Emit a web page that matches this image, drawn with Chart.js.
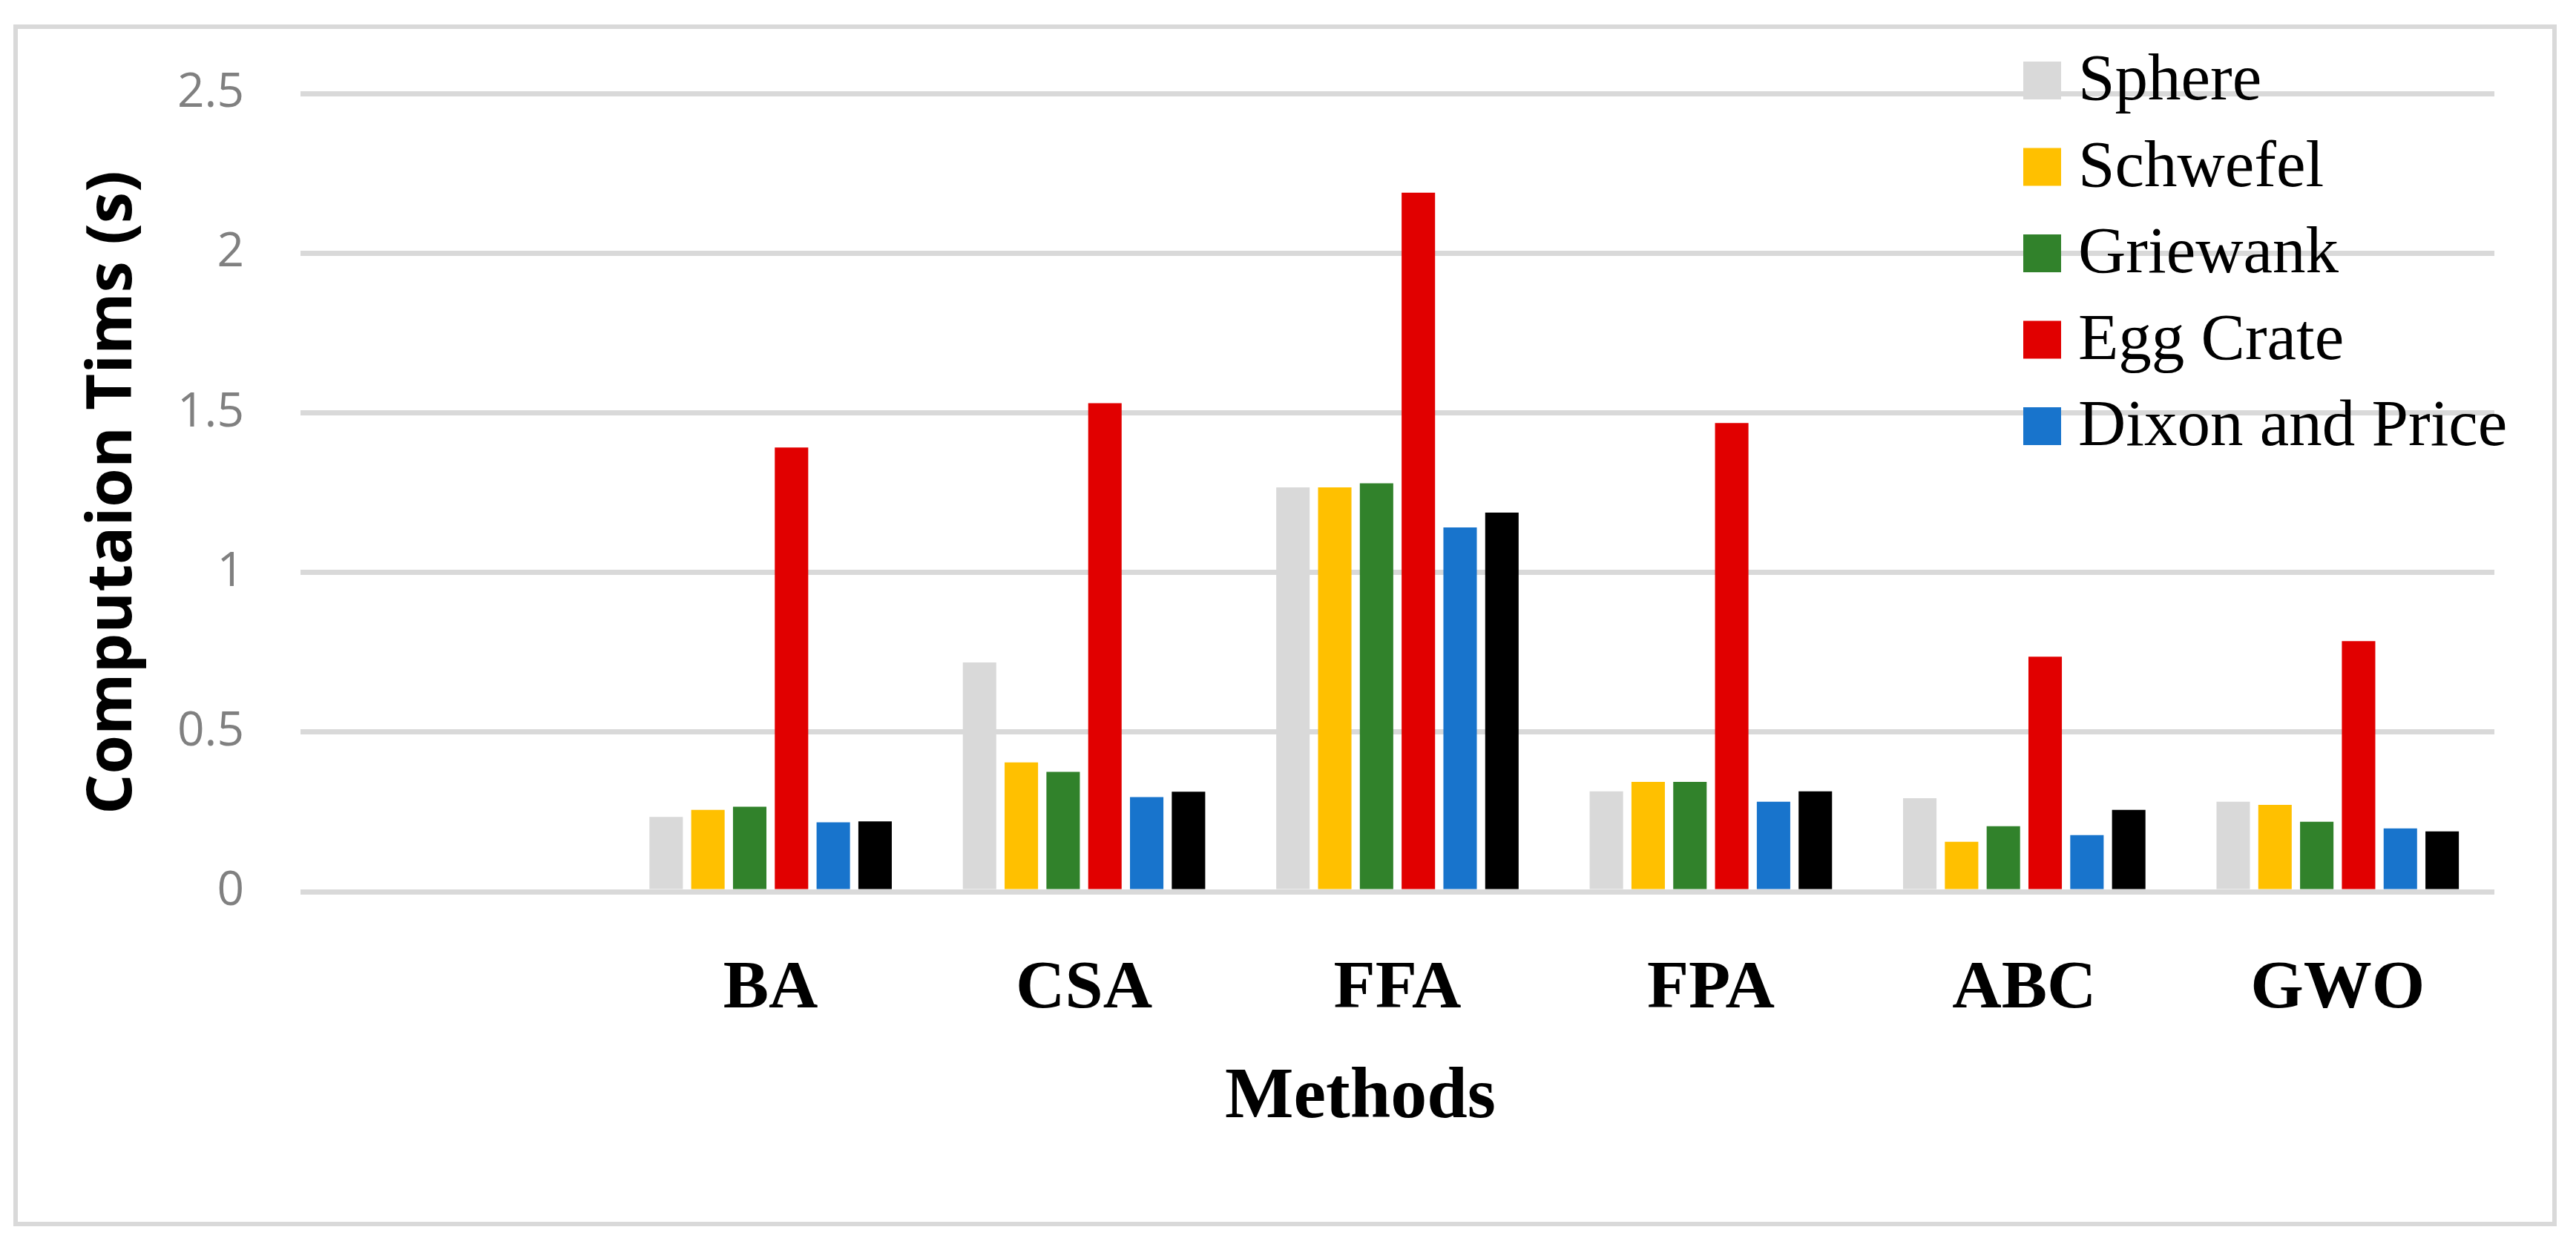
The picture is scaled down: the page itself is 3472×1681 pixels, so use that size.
<!DOCTYPE html>
<html>
<head>
<meta charset="utf-8">
<script src="https://cdn.jsdelivr.net/npm/chart.js@4"></script>
<style>
  html, body { margin: 0; padding: 0; background: #ffffff; }
  #wrap { width: 3472px; height: 1681px; position: relative; }
</style>
</head>
<body>
<div id="wrap"><canvas id="c" width="3472" height="1681"></canvas></div>
<script>
const categories = ['', 'BA', 'CSA', 'FFA', 'FPA', 'ABC', 'GWO'];
const seriesNames = ['Sphere', 'Schwefel', 'Griewank', 'Egg Crate', 'Dixon and Price', ''];
const sphere   = [null, 0.234, 0.718, 1.266, 0.314, 0.293, 0.282];
const schwefel = [null, 0.256, 0.405, 1.266, 0.344, 0.156, 0.272];
const griewank = [null, 0.266, 0.375, 1.279, 0.344, 0.205, 0.219];
const eggCrate = [null, 1.391, 1.530, 2.189, 1.468, 0.736, 0.785];
const dixonPrice = [null, 0.217, 0.296, 1.141, 0.282, 0.177, 0.198];
const unnamed  = [null, 0.220, 0.313, 1.187, 0.314, 0.256, 0.189];
const yTicks = [0, 0.5, 1, 1.5, 2, 2.5];
const yTickLabels = ['0', '0.5', '1', '1.5', '2', '2.5'];
const xTitle = 'Methods';
const yTitle = 'Computaion Tims (s)';

const colors = ['#d9d9d9', '#ffc000', '#31822b', '#e10000', '#1874cc', '#000000'];
const values = [sphere, schwefel, griewank, eggCrate, dixonPrice, unnamed];

const framePlugin = {
  id: 'frame',
  beforeDraw(chart) {
    const ctx = chart.ctx;
    ctx.save();
    ctx.fillStyle = '#ffffff';
    ctx.fillRect(0, 0, chart.width, chart.height);
    ctx.strokeStyle = '#d9d9d9';
    ctx.lineWidth = 6;
    ctx.strokeRect(21, 36, 3422, 1614);
    ctx.restore();
    // the x-axis title sits a little left of the plot centre in the original
    const sx = chart.scales.x;
    if (sx && !sx._titleShifted) {
      const orig = sx.drawTitle.bind(sx);
      sx.drawTitle = function () {
        this.ctx.save();
        this.ctx.translate(-50, 0);
        orig();
        this.ctx.restore();
      };
      sx._titleShifted = true;
    }
  }
};

const legendPlugin = {
  id: 'sideLegend',
  afterDatasetsDraw(chart) {
    const ctx = chart.ctx;
    const area = chart.chartArea;
    const boxX = area.right - 635;
    const y0 = area.top - 43;
    const step = 116.5;
    const box = 51;
    ctx.save();
    ctx.font = '89px "Liberation Serif", serif';
    ctx.textBaseline = 'alphabetic';
    ctx.textAlign = 'left';
    chart.data.datasets.forEach((ds, i) => {
      if (!ds.label) return;
      const y = y0 + i * step;
      ctx.fillStyle = ds.backgroundColor;
      ctx.fillRect(boxX, y, box, box);
      ctx.fillStyle = '#000000';
      ctx.fillText(ds.label, boxX + box + 23, y + box);
    });
    ctx.restore();
  }
};

new Chart(document.getElementById('c'), {
  type: 'bar',
  data: {
    labels: categories,
    datasets: values.map((v, i) => ({
      label: seriesNames[i],
      data: v,
      backgroundColor: colors[i],
      borderWidth: 0,
      categoryPercentage: 0.8,
      barPercentage: 0.8
    }))
  },
  options: {
    responsive: false,
    devicePixelRatio: 1,
    animation: false,
    layout: { padding: { top: 126, right: 110, bottom: 0, left: 0 } },
    plugins: {
      legend: { display: false },
      tooltip: { enabled: false }
    },
    scales: {
      x: {
        grid: { display: false, drawTicks: false },
        border: { display: false },
        ticks: {
          color: '#000000',
          padding: 77,
          font: { family: '"Liberation Serif", serif', size: 92, weight: 'bold' }
        },
        title: {
          display: true,
          text: xTitle,
          color: '#000000',
          padding: { top: 0, bottom: 142 },
          font: { family: '"Liberation Serif", serif', size: 98, weight: 'bold' }
        },
        afterFit(scale) { scale.height = 479; }
      },
      y: {
        min: 0,
        max: 2.5,
        afterBuildTicks(scale) { scale.ticks = yTicks.map(v => ({ value: v })); },
        grid: { color: '#d9d9d9', lineWidth: 7, drawTicks: false },
        border: { display: false },
        ticks: {
          color: '#808080',
          padding: 76,
          font: { family: '"Open Sans", sans-serif', size: 64 },
          callback: (v, i) => yTickLabels[i]
        },
        title: {
          display: true,
          text: yTitle,
          color: '#000000',
          padding: { top: 102, bottom: 0 },
          font: { family: '"Open Sans", sans-serif', size: 85, weight: 'bold' }
        },
        afterFit(scale) { scale.width = 405; }
      }
    }
  },
  plugins: [framePlugin, legendPlugin]
});
</script>
</body>
</html>
